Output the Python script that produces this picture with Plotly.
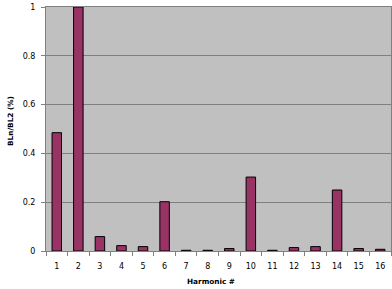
import plotly.graph_objects as go

harmonics = [str(i) for i in range(1, 17)]
values = [0.485, 1.0, 0.059, 0.022, 0.018, 0.202, 0.003, 0.003, 0.010, 0.303,
          0.003, 0.014, 0.018, 0.250, 0.010, 0.007]
y_ticks = [0, 0.2, 0.4, 0.6, 0.8, 1]
y_tick_labels = ["0", "0.2", "0.4", "0.6", "0.8", "1"]
x_title = "Harmonic #"
y_title = "BLn/BL2 (%)"

fig = go.Figure(go.Bar(
    x=harmonics, y=values,
    marker=dict(color="#993366", line=dict(color="#000000", width=1)),
))

font = "DejaVu Sans, Verdana, sans-serif"
fig.update_layout(
    width=392, height=289,
    margin=dict(l=46, r=1, t=7, b=38, autoexpand=False),
    paper_bgcolor="white", plot_bgcolor="#C0C0C0",
    bargap=0.56, showlegend=False,
    font=dict(family=font, size=8, color="black"),
    annotations=[
        dict(text="<b>%s</b>" % x_title, xref="paper", yref="paper",
             x=0.478, y=-0.123, xanchor="center", yanchor="middle",
             showarrow=False, font=dict(size=7.3)),
        dict(text="<b>%s</b>" % y_title, xref="paper", yref="paper",
             x=-0.1014, y=0.533, xanchor="center", yanchor="middle",
             textangle=-90, showarrow=False, font=dict(size=7.3)),
    ],
)
fig.update_xaxes(
    type="category", tickson="boundaries", ticks="outside", ticklen=4,
    tickcolor="#808080", showline=True, linecolor="#808080", mirror=True,
    showgrid=False, ticklabelstandoff=7,
    tickfont=dict(size=8),
)
fig.update_yaxes(
    range=[0, 1], tickvals=y_ticks, ticktext=y_tick_labels,
    ticks="outside", ticklen=4, tickcolor="#808080",
    showline=True, linecolor="#808080", mirror=True,
    showgrid=True, gridcolor="#808080", gridwidth=1, zeroline=False,
    ticklabelstandoff=4, tickfont=dict(size=8),
)
fig.write_html("out.html", post_script="document.body.style.margin='0';",
               config={"displayModeBar": False})
